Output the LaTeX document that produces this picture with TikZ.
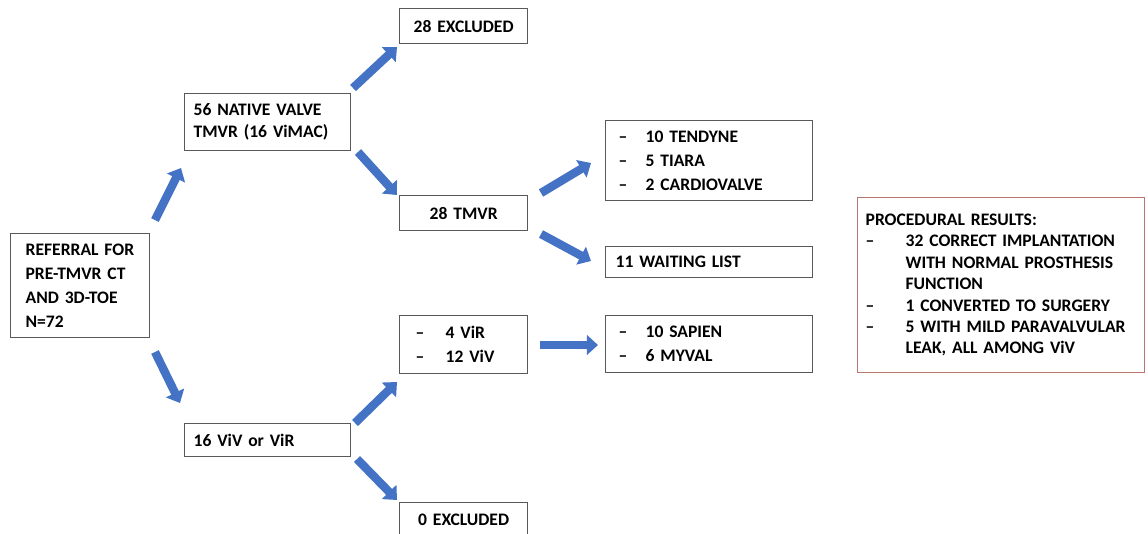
\documentclass[tikz,border=0pt]{standalone}
\usepackage{fontspec}
\setmainfont{Carlito}
\usepackage{tikz}
\usetikzlibrary{arrows.meta}
\usetikzlibrary{positioning,calc}
\definecolor{arrowblue}{HTML}{4472C4}
\definecolor{boxgray}{HTML}{595959}
\definecolor{resred}{HTML}{B8766C}
\tikzset{
    box/.style={
        draw=boxgray,
        line width=0.9pt,
        anchor=north west,
        inner ysep=0pt,
        align=left,
        font=\bfseries\fontsize{12.5}{17}\selectfont
    },
    flow/.style={
        draw=arrowblue,
        line width=6pt,
        -{Triangle[length=8pt, width=14pt]}
    }
}
\newcommand{\dashitem}[2]{\makebox[#1][l]{--}#2}

\begin{document}
\begin{tikzpicture}[x=0.025cm, y=-0.025cm]
  \useasboundingbox (0,0) rectangle (1148,533);

  % Referral and first split
  \node[box, minimum width=3.475cm, minimum height=2.6cm, inner xsep=0.375cm, text width=2.725cm] (ref) at (10,233)
    {REFERRAL FOR\\PRE-TMVR CT\\AND 3D-TOE\\N=72};
  \node[box, minimum width=4.15cm, minimum height=1.425cm, inner xsep=0.225cm, text width=3.7cm,
    font=\bfseries\fontsize{12.5}{15.5}\selectfont] (nat) at (184,93)
    {56 NATIVE VALVE\\TMVR (16 ViMAC)};
  \node[box, minimum width=4.15cm, minimum height=0.825cm, inner xsep=0.225cm, text width=3.7cm] (viv) at (184,423)
    {16 ViV or ViR};

  % Native valve branch
  \node[box, align=center, minimum width=3.2cm, minimum height=0.875cm, inner xsep=0.1cm, text width=3.0cm] (exa) at (399,8)
    {28 EXCLUDED};
  \node[box, align=center, minimum width=3.2cm, minimum height=0.875cm, inner xsep=0.1cm, text width=3.0cm] (tmvr) at (399,195)
    {28 TMVR};
  \node[box, minimum width=5.175cm, minimum height=2cm, inner xsep=0.325cm, text width=4.525cm] (dev) at (605,120)
    {\dashitem{0.675cm}{10 TENDYNE}\\\dashitem{0.675cm}{5 TIARA}\\\dashitem{0.675cm}{2 CARDIOVALVE}};
  \node[box, minimum width=5.175cm, minimum height=0.775cm, inner xsep=0.25cm, text width=4.675cm] (wait) at (605,246)
    {11 WAITING LIST};

  % ViV / ViR branch
  \node[box, minimum width=3.2cm, minimum height=1.45cm, inner xsep=0.4cm, text width=2.4cm] (vir) at (399,315)
    {\dashitem{0.75cm}{4 ViR}\\\dashitem{0.75cm}{12 ViV}};
  \node[box, minimum width=5.175cm, minimum height=1.425cm, inner xsep=0.325cm, text width=4.525cm] (sap) at (605,315)
    {\dashitem{0.675cm}{10 SAPIEN}\\\dashitem{0.675cm}{6 MYVAL}};
  \node[box, align=center, minimum width=3.2cm, minimum height=0.875cm, inner xsep=0.1cm, text width=3.0cm] (exb) at (399,502)
    {0 EXCLUDED};

  % Results
  \node[box, draw=resred, minimum width=7.175cm, minimum height=4.375cm, inner xsep=0.2cm, text width=6.775cm,
    font=\bfseries\fontsize{12.5}{15.2}\selectfont] (res) at (857,197)
    {PROCEDURAL RESULTS:\\
     \dashitem{1cm}{32 CORRECT IMPLANTATION}\\
     \hspace*{1cm}WITH NORMAL PROSTHESIS\\
     \hspace*{1cm}FUNCTION\\
     \dashitem{1cm}{1 CONVERTED TO SURGERY}\\
     \dashitem{1cm}{5 WITH MILD PARAVALVULAR}\\
     \hspace*{1cm}LEAK, ALL AMONG ViV};

  % Arrow ends
  \coordinate (a1) at (155,220); \coordinate (b1) at (181,168);
  \coordinate (a2) at (353,88);  \coordinate (b2) at (397,47);
  \coordinate (a3) at (358,152); \coordinate (b3) at (397,195);
  \coordinate (a4) at (541,193); \coordinate (b4) at (591,163);
  \coordinate (a5) at (541,234); \coordinate (b5) at (591,261);
  \coordinate (a6) at (155,352); \coordinate (b6) at (180,403);
  \coordinate (a7) at (355,423); \coordinate (b7) at (397,382);
  \coordinate (a8) at (357,459); \coordinate (b8) at (397,500);
  \coordinate (a9) at (540,345); \coordinate (b9) at (598,345);

  % Arrows
  \foreach \i in {1,...,9}
    \draw[flow] (a\i) -- (b\i);
\end{tikzpicture}
\end{document}
